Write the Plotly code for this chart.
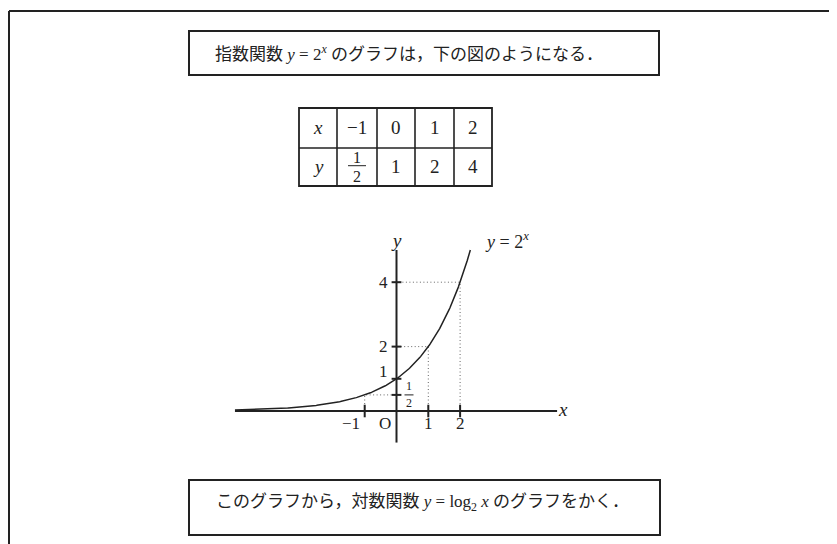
import numpy as np
import plotly.graph_objects as go

# =====================
# DATA
# =====================
table_x = [-1, 0, 1, 2]
table_y = [0.5, 1, 2, 4]
table_x_text = ["\u22121", "0", "1", "2"]
table_y_text = ["", "1", "2", "4"]      # first cell is drawn as the fraction 1/2

x_tick_vals = [-1, 1, 2]
x_tick_text = ["\u22121", "1", "2"]
y_tick_vals = [0.5, 1, 2, 4]
y_tick_text = ["", "1", "2", "4"]       # 1/2 drawn as a small fraction

guide_points = [(-1, 0.5), (1, 2), (2, 4)]   # dotted helper lines

title_top = "指数関数 <i>y</i> = 2<sup><i>x</i></sup> のグラフは，下の図のようになる．"
title_bottom = "このグラフから，対数関数 <i>y</i> = log<sub>2</sub> <i>x</i> のグラフをかく．"

# =====================
# PAGE GEOMETRY
# =====================
# the page body has an 8px margin, so the figure is drawn 8px in from the corner
OFF = 8
W, H = 837 - OFF, 544 - OFF
INK = "#222222"
FONT = "Liberation Serif, Noto Sans CJK JP, serif"

def px(x):
    return (x - OFF) / W

def py(y):
    return 1 - (y - OFF) / H

# graph axes: origin pixel (screen) and unit length
ox, oy = 396.5 - OFF, 411.0 - OFF
ux, uy = 31.8, 32.2
x_range = [-ox / ux, (W - ox) / ux]
y_range = [-(H - oy) / uy, oy / uy]

x_left, x_right = -5.08, 5.05
y_bottom, y_top = -0.98, 5.0

fig = go.Figure()

# dotted guides
for gx, gy in guide_points:
    fig.add_trace(go.Scatter(
        x=[gx, gx, 0], y=[0, gy, gy], mode="lines",
        line=dict(color="#666666", width=1, dash="1px,2.5px"),
        hoverinfo="skip",
    ))

# axes
fig.add_trace(go.Scatter(x=[x_left, x_right], y=[0, 0], mode="lines",
                         line=dict(color=INK, width=2), hoverinfo="skip"))
fig.add_trace(go.Scatter(x=[0, 0], y=[y_bottom, y_top], mode="lines",
                         line=dict(color=INK, width=2), hoverinfo="skip"))

# curve y = 2^x (the function being plotted)
xs = np.linspace(x_left, np.log2(y_top), 300)
fig.add_trace(go.Scatter(x=xs, y=2.0 ** xs, mode="lines",
                         line=dict(color=INK, width=1.5), hoverinfo="skip"))

# tick marks
fig.add_trace(go.Scatter(
    x=x_tick_vals, y=[0] * len(x_tick_vals), mode="markers",
    marker=dict(symbol="line-ns", size=9, line=dict(color=INK, width=2)),
    hoverinfo="skip",
))
fig.add_trace(go.Scatter(
    x=[0] * len(y_tick_vals), y=y_tick_vals, mode="markers",
    marker=dict(symbol="line-ew", size=7, line=dict(color=INK, width=2)),
    hoverinfo="skip",
))

annotations = []

def note(text, x, y, size, xref="paper", yref="paper", xshift=0, yshift=0):
    annotations.append(dict(
        text=text, x=x, y=y, xref=xref, yref=yref, showarrow=False,
        xanchor="center", yanchor="middle", xshift=xshift, yshift=yshift,
        font=dict(family=FONT, size=size, color=INK),
    ))

# graph labels
note("<i>y</i>", 0, 5.29, 19, "x", "y")
note("<i>y</i> = 2<sup><i>x</i></sup>", 3.47, 5.29, 18, "x", "y")
note("<i>x</i>", 5.25, 0, 19, "x", "y", yshift=2)
note("O", 0, 0, 17, "x", "y", xshift=-12, yshift=-12)
for v, t in zip(x_tick_vals, x_tick_text):
    note(t, v, 0, 17, "x", "y", xshift=(-14 if v < 0 else 0), yshift=-12)
for v, t in zip(y_tick_vals, y_tick_text):
    if t:
        note(t, 0, v, 17, "x", "y", xshift=-13, yshift=(7 if v == 1 else 0))
# small fraction 1/2 on the y axis
note("1", 0, 0.5, 12, "x", "y", xshift=12.5, yshift=8.5)
note("2", 0, 0.5, 12, "x", "y", xshift=12.5, yshift=-8.5)

shapes = [
    # small fraction bar
    dict(type="line", xref="x", yref="y", xsizemode="pixel", xanchor=0,
         x0=8, x1=17, y0=0.5, y1=0.5, line=dict(color=INK, width=1)),
    # outer frame (top and left edges)
    dict(type="line", xref="paper", yref="paper", x0=px(9), x1=px(850),
         y0=py(11), y1=py(11), line=dict(color=INK, width=2)),
    dict(type="line", xref="paper", yref="paper", x0=px(9), x1=px(9),
         y0=py(11), y1=py(560), line=dict(color=INK, width=2)),
    # text boxes
    dict(type="rect", xref="paper", yref="paper", x0=px(189), x1=px(659),
         y0=py(31), y1=py(75), line=dict(color=INK, width=2)),
    dict(type="rect", xref="paper", yref="paper", x0=px(189), x1=px(660),
         y0=py(480), y1=py(535), line=dict(color=INK, width=2)),
]

note(title_top, px(409), py(53), 17)
note(title_bottom, px(422), py(503), 17)

# table
col_edges = [299, 337, 377, 415, 454, 492]
row_edges = [108, 148, 186]
shapes.append(dict(type="rect", xref="paper", yref="paper",
                   x0=px(col_edges[0]), x1=px(col_edges[-1]),
                   y0=py(row_edges[0]), y1=py(row_edges[-1]),
                   line=dict(color=INK, width=1.8)))
for cx in col_edges[1:-1]:
    shapes.append(dict(type="line", xref="paper", yref="paper", x0=px(cx), x1=px(cx),
                       y0=py(row_edges[0]), y1=py(row_edges[-1]),
                       line=dict(color=INK, width=1.6)))
shapes.append(dict(type="line", xref="paper", yref="paper",
                   x0=px(col_edges[0]), x1=px(col_edges[-1]),
                   y0=py(row_edges[1]), y1=py(row_edges[1]),
                   line=dict(color=INK, width=1.6)))

col_centers = [(a + b) / 2 for a, b in zip(col_edges[:-1], col_edges[1:])]
row_centers = [(a + b) / 2 for a, b in zip(row_edges[:-1], row_edges[1:])]
note("<i>x</i>", px(col_centers[0]), py(row_centers[0]), 19)
note("<i>y</i>", px(col_centers[0]), py(row_centers[1]), 19)
for cx, t in zip(col_centers[1:], table_x_text):
    note(t, px(cx), py(row_centers[0]), 19)
for cx, t in zip(col_centers[1:], table_y_text):
    if t:
        note(t, px(cx), py(row_centers[1]), 19)
# fraction 1/2 in the table
fx = col_centers[1]
note("1", px(fx), py(157), 16)
note("2", px(fx), py(176.5), 16)
shapes.append(dict(type="line", xref="paper", yref="paper",
                   x0=px(fx - 9), x1=px(fx + 9), y0=py(165.7), y1=py(165.7),
                   line=dict(color=INK, width=1)))

fig.update_layout(
    width=W, height=H,
    margin=dict(l=0, r=0, t=0, b=0),
    paper_bgcolor="white", plot_bgcolor="white",
    showlegend=False,
    xaxis=dict(range=x_range, domain=[0, 1], visible=False, fixedrange=True),
    yaxis=dict(range=y_range, domain=[0, 1], visible=False, fixedrange=True),
    shapes=shapes,
    annotations=annotations,
)

fig.write_html("out.html", config={"displayModeBar": False})
